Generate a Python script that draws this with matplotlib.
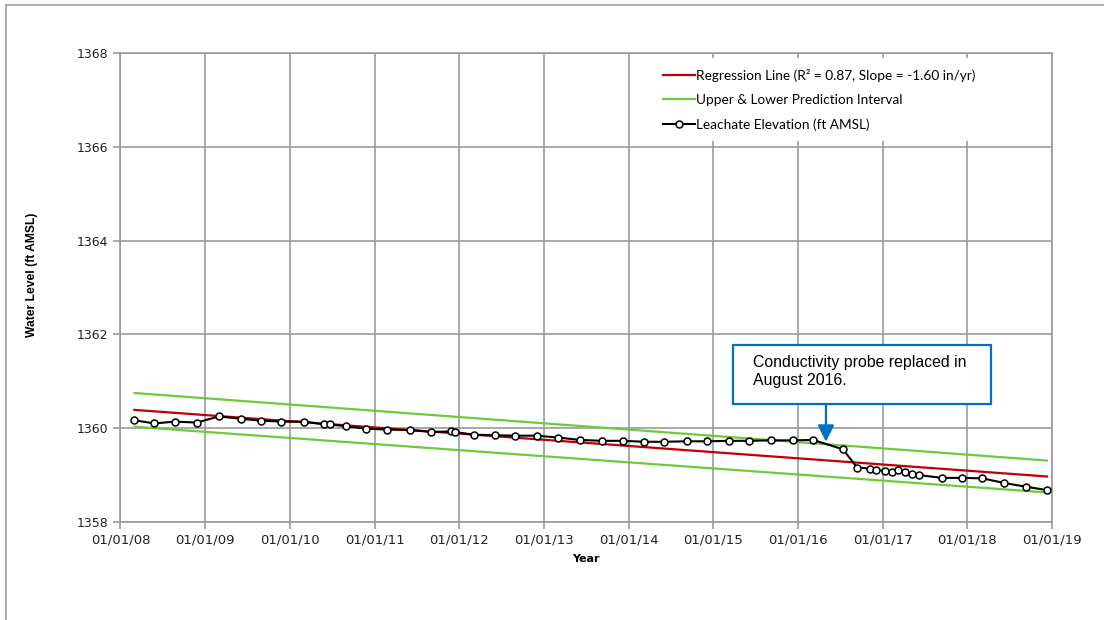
import matplotlib
matplotlib.use("Agg")
import matplotlib.pyplot as plt
import matplotlib.dates as mdates
from matplotlib.lines import Line2D
import pandas as pd

# leachate elevation readings (ft AMSL)
obs_dates = ["2008-03-01", "2008-05-26", "2008-08-22", "2008-11-25", "2009-03-01",
             "2009-06-03", "2009-08-30", "2009-11-25", "2010-03-03", "2010-05-30",
             "2010-06-24", "2010-09-01", "2010-11-27", "2011-02-24", "2011-06-02",
             "2011-09-01", "2011-11-28", "2011-12-12", "2012-03-03", "2012-06-05",
             "2012-08-28", "2012-12-01", "2013-03-03", "2013-06-03", "2013-09-09",
             "2013-12-09", "2014-03-10", "2014-06-02", "2014-09-08", "2014-12-05",
             "2015-03-10", "2015-06-03", "2015-09-06", "2015-12-10", "2016-03-06",
             "2016-07-13", "2016-09-13", "2016-11-06", "2016-12-05", "2017-01-11",
             "2017-02-09", "2017-03-07", "2017-04-09", "2017-05-08", "2017-06-06",
             "2017-09-13", "2017-12-10", "2018-03-07", "2018-06-10", "2018-09-13",
             "2018-12-10"]
elev = [1360.17, 1360.10, 1360.14, 1360.12, 1360.25,
        1360.20, 1360.16, 1360.14, 1360.14, 1360.08,
        1360.08, 1360.04, 1359.99, 1359.97, 1359.96,
        1359.92, 1359.93, 1359.92, 1359.86, 1359.85,
        1359.84, 1359.84, 1359.80, 1359.75, 1359.73,
        1359.73, 1359.71, 1359.71, 1359.72, 1359.72,
        1359.73, 1359.73, 1359.74, 1359.74, 1359.75,
        1359.55, 1359.16, 1359.14, 1359.11, 1359.09,
        1359.07, 1359.10, 1359.07, 1359.02, 1359.00,
        1358.94, 1358.94, 1358.93, 1358.83, 1358.75,
        1358.68]

# regression line and prediction interval end points
fit_dates = ["2008-03-01", "2018-12-10"]
fit_reg = [1360.39, 1358.97]
fit_upper = [1360.75, 1359.31]
fit_lower = [1360.03, 1358.63]

note_date = "2016-05-01"
note_value = 1359.71

obs_dates = pd.to_datetime(obs_dates)
fit_dates = pd.to_datetime(fit_dates)

fig = plt.figure(figsize=(11.04, 6.2), dpi=100)
ax = fig.add_axes([0.1091, 0.1581, 0.8438, 0.7565])

grid_col = "#9a9a9a"

ax.plot(fit_dates, fit_reg, color="#C00000", lw=1.6, zorder=3,
        label="Regression Line (R\u00b2 = 0.87, Slope = -1.60 in/yr)")
ax.plot(fit_dates, fit_upper, color="#6CCB3C", lw=1.6, zorder=3,
        label="Upper & Lower Prediction Interval")
ax.plot(fit_dates, fit_lower, color="#6CCB3C", lw=1.6, zorder=3)
ax.plot(obs_dates, elev, color="black", lw=1.5, marker="o", ms=5,
        mfc="white", mec="black", mew=1.1, zorder=4,
        label="Leachate Elevation (ft AMSL)")

ax.set_xlim(pd.Timestamp("2008-01-01"), pd.Timestamp("2019-01-01"))
ax.set_ylim(1358, 1368)
ax.set_yticks(range(1358, 1369, 2))
ax.xaxis.set_major_locator(mdates.YearLocator())
ax.xaxis.set_major_formatter(mdates.DateFormatter("%m/%d/%y"))

ax.grid(True, color=grid_col, lw=1.2, zorder=0)
ax.set_axisbelow(True)
for s in ax.spines.values():
    s.set_color(grid_col)
    s.set_linewidth(1.2)
ax.tick_params(axis="both", colors=grid_col, length=5, width=1.2,
               labelcolor="#222222")
ax.tick_params(axis="x", pad=3, labelsize=9.5)
ax.tick_params(axis="y", labelsize=9)

ax.set_ylabel("Water Level (ft AMSL)", fontsize=8.7, fontweight="bold",
              family="Liberation Sans")
ax.yaxis.set_label_coords(-0.0884, 0.527)
ax.set_xlabel("Year", fontsize=8, fontweight="bold", labelpad=6)

leg = ax.legend(loc="upper left", bbox_to_anchor=(0.5712, 0.99),
                frameon=True, fancybox=False, framealpha=1,
                prop={"family": "Lato", "size": 9.8},
                handlelength=2.3, labelspacing=0.9, borderpad=0.8,
                handletextpad=0.1, borderaxespad=0)
leg.get_frame().set_edgecolor("none")
leg.get_frame().set_facecolor("white")

# note box with arrow
box = plt.Rectangle((0.6576, 0.2516), 0.2769, 0.1258, transform=ax.transAxes,
                    facecolor="white", edgecolor="#0070C0", lw=1.6, zorder=5)
ax.add_patch(box)
ax.text(0.679, 0.356, "Conductivity probe replaced in\nAugust 2016.",
        transform=ax.transAxes, ha="left", va="top", fontsize=11.4,
        family="Liberation Sans", linespacing=1.25, zorder=6)
ax.annotate("", xy=(pd.Timestamp(note_date), note_value), xycoords="data",
            xytext=(pd.Timestamp(note_date), 0.2516),
            textcoords=("data", "axes fraction"),
            arrowprops=dict(arrowstyle="-|>,head_length=1.0,head_width=0.5",
                            color="#0070C0", lw=1.6, shrinkA=0, shrinkB=0),
            zorder=6)

# outer chart-area border
fig.add_artist(Line2D([0.0054, 1.0], [0.992, 0.992], color="#a0a0a0", lw=1.2))
fig.add_artist(Line2D([0.0054, 0.0054], [0.0, 0.992], color="#a0a0a0", lw=1.2))

fig.savefig("out.png", dpi=100)
